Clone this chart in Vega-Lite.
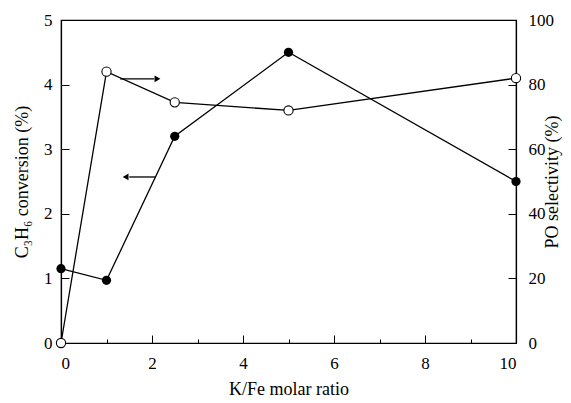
{
  "$schema": "https://vega.github.io/schema/vega-lite/v6.json",
  "width": 455,
  "height": 323,
  "autosize": "none",
  "padding": {"left": 61, "top": 20, "right": 55, "bottom": 60},
  "background": "white",
  "config": {
    "font": "Liberation Serif, 'Times New Roman', 'DejaVu Serif', serif",
    "view": {"stroke": "black", "strokeWidth": 1.2},
    "axis": {
      "domainColor": "black", "tickColor": "black", "labelColor": "black", "titleColor": "black",
      "labelFontSize": 17, "titleFontSize": 18, "titleFontWeight": "normal", "grid": false,
      "domainWidth": 1.2, "tickWidth": 1,
      "labelFont": "Liberation Serif, 'Times New Roman', 'DejaVu Serif', serif",
      "titleFont": "Liberation Serif, 'Times New Roman', 'DejaVu Serif', serif"
    }
  },
  "datasets": {
    "conv": [
      {"ratio": 0, "conv": 1.15},
      {"ratio": 1, "conv": 0.97},
      {"ratio": 2.5, "conv": 3.2},
      {"ratio": 5, "conv": 4.5},
      {"ratio": 10, "conv": 2.5}
    ],
    "sel": [
      {"ratio": 0, "sel": 0},
      {"ratio": 1, "sel": 84},
      {"ratio": 2.5, "sel": 74.5},
      {"ratio": 5, "sel": 72},
      {"ratio": 10, "sel": 82}
    ],
    "arrows": [
      {"x": 1.3, "x2": 2.05, "y": 4.09},
      {"x": 1.5, "x2": 2.07, "y": 2.57}
    ],
    "heads": [
      {"x": 2.12, "y": 4.09, "shape": "triangle-right"},
      {"x": 1.42, "y": 2.57, "shape": "triangle-left"}
    ]
  },
  "layer": [
    {
      "layer": [
        {
          "data": {"name": "conv"},
          "mark": {"type": "line", "color": "black", "strokeWidth": 1.3},
          "encoding": {
            "x": {
              "field": "ratio", "type": "quantitative",
              "scale": {"domain": [0, 10], "nice": false},
              "axis": {
                "title": "K/Fe molar ratio",
                "values": [0, 0.5, 1, 1.5, 2, 2.5, 3, 3.5, 4, 4.5, 5, 5.5, 6, 6.5, 7, 7.5, 8, 8.5, 9, 9.5, 10],
                "labelExpr": "datum.value % 2 === 0 ? format(datum.value, 'd') : ''",
                "tickSize": {"condition": {"test": "datum.value % 2 === 0", "value": -8}, "value": -4},
                "labelPadding": 20,
                "titlePadding": 9
              }
            },
            "y": {
              "field": "conv", "type": "quantitative",
              "scale": {"domain": [0, 5], "nice": false},
              "axis": {
                "title": "C₃H₆ conversion (%)",
                "values": [0, 0.25, 0.5, 0.75, 1, 1.25, 1.5, 1.75, 2, 2.25, 2.5, 2.75, 3, 3.25, 3.5, 3.75, 4, 4.25, 4.5, 4.75, 5],
                "labelExpr": "datum.value % 1 === 0 ? format(datum.value, 'd') : ''",
                "tickSize": {"condition": {"test": "datum.value % 1 === 0", "value": -8}, "value": -4},
                "labelPadding": 17,
                "titlePadding": 12
              }
            }
          }
        },
        {
          "data": {"name": "conv"},
          "mark": {"type": "point", "filled": true, "color": "black", "size": 85, "opacity": 1},
          "encoding": {
            "x": {"field": "ratio", "type": "quantitative"},
            "y": {"field": "conv", "type": "quantitative"}
          }
        },
        {
          "data": {"name": "arrows"},
          "mark": {"type": "rule", "color": "black", "strokeWidth": 1.3},
          "encoding": {
            "x": {"field": "x", "type": "quantitative"},
            "x2": {"field": "x2"},
            "y": {"field": "y", "type": "quantitative"}
          }
        },
        {
          "data": {"name": "heads"},
          "mark": {"type": "point", "filled": true, "color": "black", "size": 45, "opacity": 1},
          "encoding": {
            "x": {"field": "x", "type": "quantitative"},
            "y": {"field": "y", "type": "quantitative"},
            "shape": {"field": "shape", "type": "nominal", "scale": null}
          }
        }
      ]
    },
    {
      "layer": [
        {
          "data": {"name": "sel"},
          "mark": {"type": "line", "color": "black", "strokeWidth": 1.3},
          "encoding": {
            "x": {"field": "ratio", "type": "quantitative"},
            "y": {
              "field": "sel", "type": "quantitative",
              "scale": {"domain": [0, 100], "nice": false},
              "axis": {
                "orient": "right",
                "title": "PO selectivity (%)",
                "titleAngle": -90,
                "titleBaseline": "bottom",
                "values": [0, 5, 10, 15, 20, 25, 30, 35, 40, 45, 50, 55, 60, 65, 70, 75, 80, 85, 90, 95, 100],
                "labelExpr": "datum.value % 20 === 0 ? format(datum.value, 'd') : ''",
                "tickSize": {"condition": {"test": "datum.value % 20 === 0", "value": -8}, "value": -4},
                "labelPadding": 20,
                "titlePadding": 8
              }
            }
          }
        },
        {
          "data": {"name": "sel"},
          "mark": {"type": "point", "filled": true, "fill": "white", "stroke": "black", "strokeWidth": 1.1, "size": 85, "opacity": 1},
          "encoding": {
            "x": {"field": "ratio", "type": "quantitative"},
            "y": {"field": "sel", "type": "quantitative"}
          }
        }
      ]
    }
  ],
  "resolve": {"scale": {"y": "independent"}}
}
